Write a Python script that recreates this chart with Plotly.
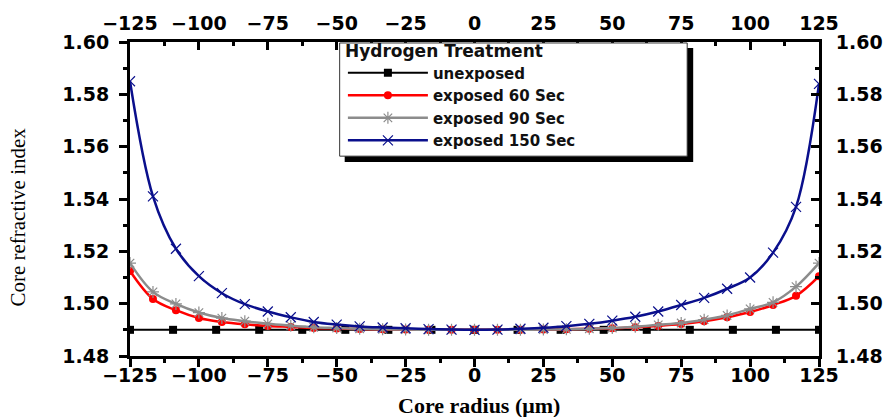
import plotly.graph_objects as go

# ---- data ----
radius = [-125.0, -116.667, -108.333, -100.0, -91.667, -83.333, -75.0, -66.667,
          -58.333, -50.0, -41.667, -33.333, -25.0, -16.667, -8.333, 0.0,
          8.333, 16.667, 25.0, 33.333, 41.667, 50.0, 58.333, 66.667,
          75.0, 83.333, 91.667, 100.0, 108.333, 116.667, 125.0]

radius_unexposed = [-125.0, -109.375, -93.75, -78.125, -62.5, -46.875, -31.25, -15.625,
                    0.0, 15.625, 31.25, 46.875, 62.5, 78.125, 93.75, 109.375, 125.0]
n_unexposed = [1.490, 1.490, 1.490, 1.490, 1.490, 1.490, 1.490, 1.490, 1.490,
               1.490, 1.490, 1.490, 1.490, 1.490, 1.490, 1.490, 1.490]

n_60 = [1.5125, 1.5018, 1.4975, 1.4945, 1.4930, 1.4921, 1.4915, 1.4911,
        1.4907, 1.4905, 1.4903, 1.4902, 1.4901, 1.4900, 1.4900, 1.4900,
        1.4900, 1.4900, 1.4901, 1.4902, 1.4904, 1.4906, 1.4910, 1.4915,
        1.4922, 1.4933, 1.4948, 1.4968, 1.4995, 1.5030, 1.5105]

n_90 = [1.5155, 1.5045, 1.4999, 1.4966, 1.4945, 1.4933, 1.4923, 1.4916,
        1.4910, 1.4907, 1.4904, 1.4902, 1.4901, 1.4900, 1.4900, 1.4900,
        1.4900, 1.4900, 1.4901, 1.4902, 1.4904, 1.4907, 1.4912, 1.4919,
        1.4926, 1.4939, 1.4955, 1.4980, 1.5005, 1.5065, 1.5155]

n_150 = [1.5850, 1.5410, 1.5210, 1.5105, 1.5040, 1.4998, 1.4970, 1.4948,
         1.4930, 1.4920, 1.4913, 1.4909, 1.4906, 1.4903, 1.4901, 1.4900,
         1.4901, 1.4904, 1.4908, 1.4914, 1.4923, 1.4935, 1.4950, 1.4970,
         1.4995, 1.5022, 1.5057, 1.5100, 1.5195, 1.5370, 1.5840]

x_ticks = [-125, -100, -75, -50, -25, 0, 25, 50, 75, 100, 125]
y_ticks = [1.48, 1.50, 1.52, 1.54, 1.56, 1.58, 1.60]
x_range = [-125, 125]
y_range = [1.48, 1.60]

TICKFONT = dict(family="DejaVu Sans", size=19, color="black", weight="bold")
LEGFONT = dict(family="DejaVu Sans", size=15, color="#111111", weight="bold")
LEGTITLEFONT = dict(family="DejaVu Sans", size=17, color="#111111", weight="bold")
TITLEFONT = dict(family="Liberation Serif", size=21, color="black")
XTITLEFONT = dict(family="Liberation Serif", size=22, color="black")

fig = go.Figure()

fig.add_trace(go.Scatter(
    x=radius_unexposed, y=n_unexposed, name="unexposed", mode="lines+markers",
    line=dict(color="black", width=2),
    marker=dict(symbol="square", size=8, color="black")))
fig.add_trace(go.Scatter(
    x=radius, y=n_60, name="exposed 60 Sec", mode="lines+markers",
    line=dict(color="#ff0000", width=2.5, shape="spline"),
    marker=dict(symbol="circle", size=8, color="#ff0000")))
fig.add_trace(go.Scatter(
    x=radius, y=n_90, name="exposed 90 Sec", mode="lines+markers",
    line=dict(color="#8c8c8c", width=2.5, shape="spline"),
    marker=dict(symbol="asterisk-open", size=10,
                line=dict(color="#8c8c8c", width=1.2))))
fig.add_trace(go.Scatter(
    x=radius, y=n_150, name="exposed 150 Sec", mode="lines+markers",
    line=dict(color="#0a0f8c", width=2.5, shape="spline"),
    marker=dict(symbol="x-thin-open", size=10,
                line=dict(color="#3a3fa0", width=1.2))))

# empty trace so that the mirrored top / right axes get drawn
fig.add_trace(go.Scatter(x=[None], y=[None], xaxis="x2", yaxis="y2",
                         showlegend=False, hoverinfo="skip", mode="lines"))

axis_common = dict(showline=True, linecolor="black", linewidth=3,
                   showgrid=False, zeroline=False, tickfont=TICKFONT,
                   tickcolor="black", tickwidth=2.5, ticklen=8)

fig.update_layout(
    width=895, height=417,
    margin=dict(l=130, r=75, t=37, b=61),
    plot_bgcolor="white", paper_bgcolor="white",
    showlegend=True,
    xaxis=dict(range=x_range, tickvals=x_ticks, ticks="outside",
               minor=dict(dtick=12.5, tick0=-125, ticks="outside", ticklen=4,
                          tickwidth=2.5, tickcolor="black"),
               ticklabelstandoff=-8, **axis_common),
    xaxis2=dict(range=x_range, tickvals=x_ticks, ticks="inside",
                overlaying="x", side="top", anchor="y2",
                minor=dict(dtick=12.5, tick0=-125, ticks="inside", ticklen=4,
                           tickwidth=2.5, tickcolor="black"),
                ticklabelstandoff=1, **axis_common),
    yaxis=dict(range=y_range, tickvals=y_ticks, tickformat=".2f",
               ticks="outside",
               minor=dict(dtick=0.01, tick0=1.48, ticks="outside", ticklen=4,
                          tickwidth=2.5, tickcolor="black"),
               ticklabelstandoff=6, **axis_common),
    yaxis2=dict(range=y_range, tickvals=y_ticks, tickformat=".2f",
                ticks="inside", overlaying="y", side="right", anchor="x2",
                minor=dict(dtick=0.01, tick0=1.48, ticks="inside", ticklen=4,
                           tickwidth=2.5, tickcolor="black"),
                ticklabelstandoff=10, **axis_common),
    legend=dict(x=0.309, y=1.024, xanchor="left", yanchor="top",
                bgcolor="rgba(0,0,0,0)", borderwidth=0,
                font=LEGFONT, itemwidth=80, tracegroupgap=0,
                title=dict(text="Hydrogen Treatment", font=LEGTITLEFONT)),
    shapes=[
        dict(type="rect", xref="paper", yref="paper",
             x0=0.3116, x1=0.8174, y0=0.6176, y1=0.9812,
             fillcolor="black", line=dict(width=0), layer="above"),
        dict(type="rect", xref="paper", yref="paper",
             x0=0.3043, x1=0.8087, y0=0.6364, y1=0.9969,
             fillcolor="white", line=dict(color="#333333", width=1),
             layer="above"),
    ],
    annotations=[
        dict(text="<b>Core radius (μm)</b>", xref="paper", yref="paper",
             x=0.507, y=-0.157, xanchor="center", yanchor="middle",
             showarrow=False, font=XTITLEFONT),
        dict(text="Core refractive index", xref="paper", yref="paper",
             x=-0.162, y=0.442, xanchor="center", yanchor="middle",
             textangle=-90, showarrow=False, font=TITLEFONT),
    ],
)

fig.write_html("out.html")
